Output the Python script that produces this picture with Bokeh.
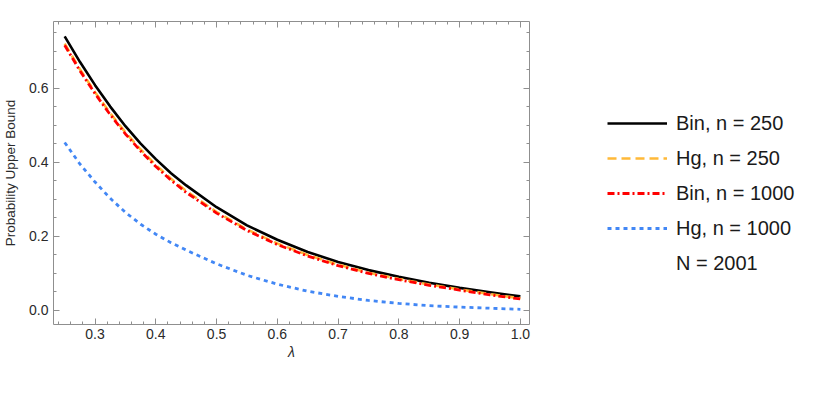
from bokeh.plotting import figure
from bokeh.layouts import row
from bokeh.models import Legend, LegendItem, LinearAxis, SingleIntervalTicker, Range1d, NumeralTickFormatter
from bokeh.embed import file_html
from bokeh.resources import INLINE

# ---- data ----
lam = [0.25, 0.275, 0.30, 0.325, 0.35, 0.375, 0.40, 0.425, 0.45, 0.50, 0.55, 0.60, 0.65, 0.70, 0.75, 0.80, 0.85, 0.90, 0.95, 1.00]
bin_250 = [0.740, 0.671, 0.608, 0.550, 0.497, 0.450, 0.408, 0.370, 0.337, 0.278, 0.229, 0.190, 0.157, 0.130, 0.108, 0.090, 0.074, 0.060, 0.048, 0.037]
hg_250 = [0.720, 0.651, 0.589, 0.532, 0.480, 0.434, 0.392, 0.355, 0.322, 0.265, 0.218, 0.180, 0.149, 0.123, 0.101, 0.084, 0.069, 0.056, 0.043, 0.032]
bin_1000 = [0.716, 0.647, 0.585, 0.528, 0.476, 0.430, 0.388, 0.351, 0.318, 0.262, 0.215, 0.177, 0.146, 0.120, 0.099, 0.082, 0.067, 0.054, 0.041, 0.030]
hg_1000 = [0.453, 0.395, 0.346, 0.302, 0.264, 0.232, 0.205, 0.182, 0.162, 0.125, 0.094, 0.070, 0.051, 0.037, 0.026, 0.018, 0.012, 0.008, 0.005, 0.002]
labels = ["Bin, n = 250", "Hg, n = 250", "Bin, n = 1000", "Hg, n = 1000", "N = 2001"]
x_label = "λ"
y_label = "Probability Upper Bound"

FONT = "Liberation Sans"
FRAME = "#8f8f8f"
TXT = "#2a2a2a"

STYLES = [
    dict(line_color="black", line_width=2.6, line_join="round"),
    dict(line_color="#FFB938", line_width=2.6, line_dash="9 5", line_join="round"),
    dict(line_color="#FF0000", line_width=2.8, line_dash="7 3 2 3", line_join="round"),
    dict(line_color="#4287F5", line_width=2.8, line_dash="4 4", line_join="round"),
]
SERIES = [bin_250, hg_250, bin_1000, hg_1000]

H = 372
p = figure(width=545, height=H,
           min_border_left=45, min_border_right=16, min_border_top=21, min_border_bottom=48,
           x_range=Range1d(0.2316, 1.015), y_range=Range1d(-0.039, 0.78),
           output_backend="svg", toolbar_location=None)
p.outline_line_color = None
p.xgrid.visible = False
p.ygrid.visible = False
p.background_fill_color = "white"
p.border_fill_color = "white"

def style(ax, show=True):
    ax.axis_line_color = FRAME
    ax.axis_line_width = 1
    ax.major_tick_line_color = FRAME
    ax.minor_tick_line_color = FRAME
    ax.major_tick_in = 6
    ax.major_tick_out = 0
    ax.minor_tick_in = 3
    ax.minor_tick_out = 0
    ax.major_label_text_font = FONT
    ax.major_label_text_font_size = "14px"
    ax.major_label_text_color = TXT
    ax.formatter = NumeralTickFormatter(format="0.0")
    if not show:
        ax.major_label_text_font_size = "0px"
        ax.major_label_text_color = None
        ax.major_label_standoff = 0

p.xaxis[0].ticker = SingleIntervalTicker(interval=0.1, num_minor_ticks=5)
p.yaxis[0].ticker = SingleIntervalTicker(interval=0.2, num_minor_ticks=4)
style(p.xaxis[0])
style(p.yaxis[0])
p.xaxis[0].major_label_standoff = 4
p.yaxis[0].major_label_standoff = 5
p.xaxis[0].axis_label = x_label
p.xaxis[0].axis_label_text_font = FONT
p.xaxis[0].axis_label_text_font_style = "italic"
p.xaxis[0].axis_label_text_font_size = "14px"
p.xaxis[0].axis_label_text_color = TXT
p.xaxis[0].axis_label_standoff = 2
p.yaxis[0].axis_label = y_label
p.yaxis[0].axis_label_text_font = FONT
p.yaxis[0].axis_label_text_font_style = "normal"
p.yaxis[0].axis_label_text_font_size = "13.5px"
p.yaxis[0].axis_label_text_color = TXT
p.yaxis[0].axis_label_standoff = 8

top = LinearAxis(ticker=SingleIntervalTicker(interval=0.1, num_minor_ticks=5))
right = LinearAxis(ticker=SingleIntervalTicker(interval=0.2, num_minor_ticks=4))
style(top, False)
style(right, False)
p.add_layout(top, "above")
p.add_layout(right, "right")

for ys, st in zip(SERIES, STYLES):
    p.line(lam, ys, **st)

# ---- legend panel (separate figure, no axes; its ranges keep the copies out of view) ----
q = figure(width=253, height=H, min_border_left=0, min_border_right=0,
           min_border_top=21, min_border_bottom=48,
           x_range=Range1d(10, 11), y_range=Range1d(10, 11),
           x_axis_location=None, y_axis_location=None,
           output_backend="svg", toolbar_location=None)
q.outline_line_color = None
q.xgrid.visible = False
q.ygrid.visible = False
q.background_fill_color = "white"
q.border_fill_color = "white"

dummies = [q.line(lam, ys, **st) for ys, st in zip(SERIES, STYLES)]
dummies.append(q.line(lam, bin_250, line_alpha=0))

legend = Legend(items=[LegendItem(label=lab, renderers=[r]) for lab, r in zip(labels, dummies)],
                location=(57, 40))
legend.glyph_width = 60
legend.glyph_height = 32
legend.label_height = 32
legend.spacing = 3
legend.padding = 5
legend.margin = 0
legend.label_standoff = 9
legend.label_text_font = FONT
legend.label_text_font_size = "20px"
legend.label_text_color = "#1a1a1a"
legend.border_line_alpha = 0
legend.background_fill_alpha = 0
q.add_layout(legend)

layout = row(p, q, spacing=0)
open("out.html", "w").write(file_html(layout, INLINE))
